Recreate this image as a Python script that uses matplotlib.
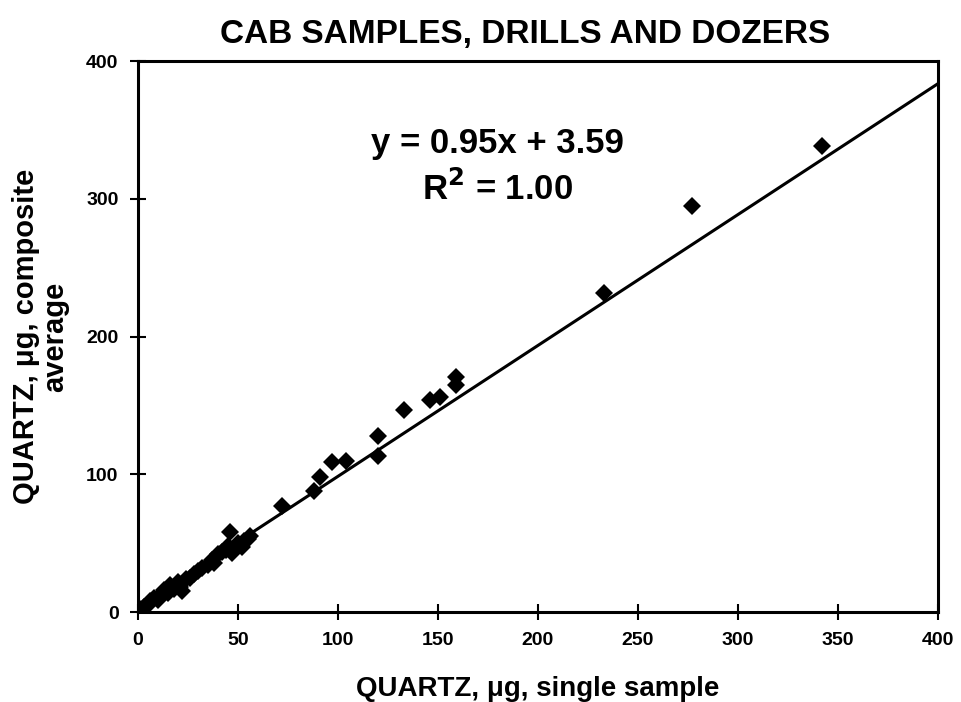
import numpy as np
import matplotlib
matplotlib.use("Agg")
import matplotlib.pyplot as plt

# single-sample quartz (x) vs composite average (y), micrograms
single = [0, 1, 2, 3, 5, 6, 8, 10, 12, 13, 15, 16, 18, 20, 21, 22, 24, 26, 28,
          30, 32, 35, 37, 38, 40, 42, 44, 45, 46, 47, 48, 50, 52, 53, 55, 56,
          72, 88, 91, 97, 104, 120, 120, 133, 146, 151, 159, 159, 233, 277, 342]
composite = [0, 2, 1, 4, 5, 8, 10, 9, 13, 16, 14, 20, 17, 22, 18, 15, 24, 25, 28,
             30, 32, 34, 38, 36, 42, 44, 45, 48, 58, 43, 46, 50, 47, 52, 53, 55,
             77, 88, 98, 109, 110, 128, 113, 147, 154, 156, 171, 165, 232, 295, 338]
SLOPE, INTERCEPT = 0.95, 3.59
XTICKS = [0, 50, 100, 150, 200, 250, 300, 350, 400]
YTICKS = [0, 100, 200, 300, 400]

plt.rcParams["font.family"] = ["Liberation Sans", "DejaVu Sans"]
plt.rcParams["font.weight"] = "bold"

fig = plt.figure(figsize=(9.61, 7.02), dpi=100)
ax = fig.add_axes([0.1436, 0.128, 0.8324, 0.785])

ax.plot(single, composite, "D", color="black", ms=9.5, mew=0, zorder=3)
xl = np.array([0, 400])
ax.plot(xl, SLOPE * xl + INTERCEPT, color="black", lw=2.2, zorder=2)

ax.set_xlim(0, 400)
ax.set_ylim(0, 400)
ax.set_xticks(XTICKS)
ax.set_yticks(YTICKS)
ax.tick_params(direction="inout", length=12, width=1.5, labelsize=14, pad=8)
for s in ax.spines.values():
    s.set_linewidth(2.2)
for lab in ax.get_xticklabels() + ax.get_yticklabels():
    lab.set_fontweight("bold")

ax.set_xlabel("QUARTZ, μg, single sample", fontsize=20, fontweight="bold", labelpad=20)
ax.set_ylabel("QUARTZ, μg, composite\naverage", fontsize=21, fontweight="bold",
              labelpad=12, linespacing=1.05)
fig.suptitle("CAB SAMPLES, DRILLS AND DOZERS", x=0.546, y=0.973, fontsize=24,
             fontweight="bold")
ax.text(0.449, 0.808, f"y = {SLOPE:.2f}x + {INTERCEPT:.2f}\nR$^2$ = 1.00",
        transform=ax.transAxes, ha="center", va="center", fontsize=25,
        fontweight="bold", linespacing=1.35)

plt.savefig("out.png", dpi=100)
